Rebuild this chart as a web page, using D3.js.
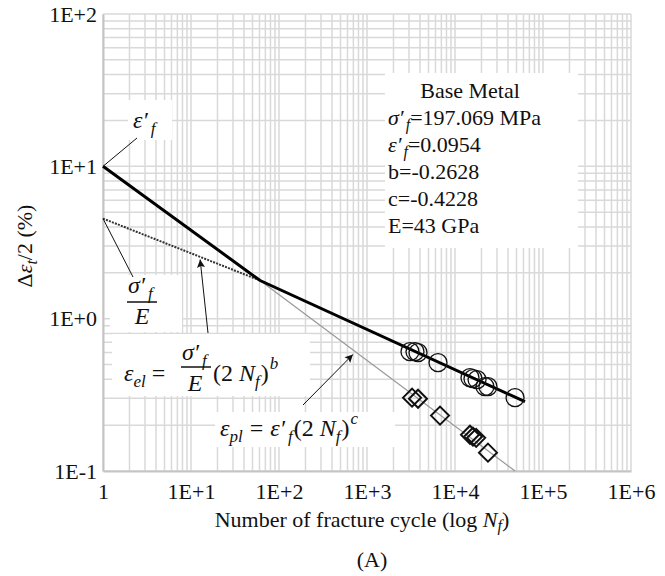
<!DOCTYPE html>
<html>
<head>
<meta charset='UTF-8'>
<title>Strain-life curve</title>
<script src='https://cdn.jsdelivr.net/npm/d3@7/dist/d3.min.js'></script>
<style>
  body {margin:0; background:#fff;}
</style>
</head>
<body>
<div id='chart'></div>
<script>
/* Data */
var xTickValues = [1, 1e1, 1e2, 1e3, 1e4, 1e5, 1e6];
var xTickLabels = ['1', '1E+1', '1E+2', '1E+3', '1E+4', '1E+5', '1E+6'];
var yTickValues = [0.1, 1, 10, 100];
var yTickLabels = ['1E-1', '1E+0', '1E+1', '1E+2'];

// total strain (thick line): plastic part then elastic part
var totalN = [1, 61, 62400];
var totalStrain = [10, 1.78, 0.285];
// elastic line (dotted) up to transition
var elasticN = [1, 61];
var elasticStrain = [4.54, 1.78];
// plastic line (thin grey) after transition
var plasticN = [61, 48100];
var plasticStrain = [1.78, 0.1];

// test points: total strain (circles)
var circleN = [3080, 3510, 3800, 6410, 14800, 16000, 17800, 21900, 23700, 48100];
var circleStrain = [0.607, 0.607, 0.598, 0.514, 0.410, 0.404, 0.398, 0.358, 0.358, 0.303];
// test points: plastic strain (diamonds)
var diamondN = [3250, 3800, 6760, 14800, 16000, 17400, 23700];
var diamondStrain = [0.303, 0.298, 0.231, 0.173, 0.168, 0.165, 0.132];

var legendLines = ['σ′|f|=197.069 MPa', 'ε′|f|=0.0954', 'b=-0.2628', 'c=-0.4228', 'E=43 GPa'];

var width = 665;
var height = 576;
var fontSize = 22;
var mathSize = 24;
var subSize = 17;
var serif = "'Liberation Serif'";

var svg = d3.select('#chart').append('svg')
  .attr('width', width)
  .attr('height', height);

/* Scales */
var x = d3.scaleLog().domain([1, 1e6]).range([103, 631]);
var y = d3.scaleLog().domain([0.1, 100]).range([471, 14]);

/* Grid (major + minor) */
var xGrid = [];
for (var d = 0; d < 6; d++) for (var k = 1; k <= 9; k++) xGrid.push(k * Math.pow(10, d));
xGrid.push(1e6);
var yGrid = [];
for (var d = -1; d < 2; d++) for (var k = 1; k <= 9; k++) yGrid.push(k * Math.pow(10, d));
yGrid.push(100);

var grid = svg.append('g').attr('class', 'grid');
grid.selectAll('.vg').data(xGrid).enter().append('line')
  .attr('x1', d => x(d)).attr('x2', d => x(d))
  .attr('y1', y(100)).attr('y2', y(0.1))
  .attr('stroke', '#d9d9d9').attr('stroke-width', 1.5);
grid.selectAll('.hg').data(yGrid).enter().append('line')
  .attr('x1', x(1)).attr('x2', x(1e6))
  .attr('y1', d => y(d)).attr('y2', d => y(d))
  .attr('stroke', '#d9d9d9').attr('stroke-width', 1.5);

/* White boxes behind the annotations */
var boxes = [
  [385, 73, 193, 175],   // legend
  [128, 100, 44, 40],    // eps'f label
  [110, 275, 72, 57],    // sigma'f / E
  [112, 334, 198, 62],   // eps_el equation
  [215, 412, 180, 35]    // eps_pl equation
];
svg.append('g').selectAll('rect').data(boxes).enter().append('rect')
  .attr('x', d => d[0]).attr('y', d => d[1])
  .attr('width', d => d[2]).attr('height', d => d[3])
  .attr('fill', '#fff');

/* Axes */
var xAxis = d3.axisBottom(x).tickValues(xTickValues)
  .tickFormat((d, i) => xTickLabels[i]).tickSize(0).tickPadding(12);
var yAxis = d3.axisLeft(y).tickValues(yTickValues)
  .tickFormat((d, i) => yTickLabels[i]).tickSize(0).tickPadding(6);

var gx = svg.append('g').attr('transform', `translate(0, ${y(0.1)})`).call(xAxis);
var gy = svg.append('g').attr('transform', `translate(${x(1)}, 0)`).call(yAxis);
[gx, gy].forEach(function(g) {
  g.select('.domain').attr('stroke', '#c4c4c4').attr('stroke-width', 2);
  g.selectAll('text').attr('fill', '#111')
    .style('font-family', serif).style('font-size', fontSize + 'px');
});

/* Lines */
var line = d3.line().x(d => x(d[0])).y(d => y(d[1]));
svg.append('path')
  .attr('d', line(d3.zip(plasticN, plasticStrain)))
  .attr('fill', 'none').attr('stroke', '#9a9a9a').attr('stroke-width', 1.3);
svg.append('path')
  .attr('d', line(d3.zip(elasticN, elasticStrain)))
  .attr('fill', 'none').attr('stroke', '#333').attr('stroke-width', 2)
  .attr('stroke-dasharray', '2,1.2');
svg.append('path')
  .attr('d', line(d3.zip(totalN, totalStrain)))
  .attr('fill', 'none').attr('stroke', '#000').attr('stroke-width', 3);

/* Markers */
svg.append('g').selectAll('circle').data(d3.zip(circleN, circleStrain)).enter()
  .append('circle')
  .attr('cx', d => x(d[0])).attr('cy', d => y(d[1])).attr('r', 9)
  .attr('fill', 'none').attr('stroke', '#111').attr('stroke-width', 1.3);
svg.append('g').selectAll('path').data(d3.zip(diamondN, diamondStrain)).enter()
  .append('path')
  .attr('transform', d => `translate(${x(d[0])}, ${y(d[1])})`)
  .attr('d', 'M0,-9L9,0L0,9L-9,0Z')
  .attr('fill', 'none').attr('stroke', '#111').attr('stroke-width', 2);

/* Rich text helper: parts = [text, italic, shift, size, dx] */
function rich(sel, px, py, parts, anchor, size) {
  var base = size || fontSize;
  var t = sel.append('text').attr('x', px).attr('y', py)
    .attr('text-anchor', anchor || 'start')
    .attr('fill', '#111')
    .style('font-family', serif)
    .style('font-size', base + 'px');
  var shift = 0;
  parts.forEach(function(p) {
    var s = p[2] || 0;
    t.append('tspan').attr('dy', s - shift).attr('dx', p[4] || 0)
      .style('font-style', p[1] ? 'italic' : 'normal')
      .style('font-size', (p[3] || base) + 'px')
      .text(p[0]);
    shift = s;
  });
  return t;
}

/* Legend */
var legend = svg.append('g');
rich(legend, 470, 98, [['Base Metal', false]], 'middle');
legendLines.forEach(function(s, i) {
  var bits = s.split('|');
  var parts = bits.length > 1
    ? [[bits[0], true], [bits[1], true, 5, 16, 2], [bits[2], false, 0]]
    : [[s, false]];
  rich(legend, 388, 125 + i * 27, parts);
});

/* Annotations */
var ann = svg.append('g');
rich(ann, 133, 128, [['ε′', true], ['f', true, 6, subSize, 3]], 'start', mathSize);
ann.append('line')
  .attr('x1', x(1)).attr('y1', y(10)).attr('x2', 137).attr('y2', 138)
  .attr('stroke', '#111').attr('stroke-width', 1);

rich(ann, 128, 293, [['σ′', true], ['f', true, 6, subSize, 3]], 'start', mathSize);
ann.append('line').attr('x1', 127).attr('x2', 157).attr('y1', 302).attr('y2', 302)
  .attr('stroke', '#111').attr('stroke-width', 1.5);
rich(ann, 142, 324, [['E', true]], 'middle', mathSize);
ann.append('line')
  .attr('x1', x(1)).attr('y1', y(4.54)).attr('x2', 133).attr('y2', 277)
  .attr('stroke', '#111').attr('stroke-width', 1);

rich(ann, 124, 381, [['ε', true], ['el', true, 6, subSize], ['=', false, 0, null, 6]], 'start', mathSize);
rich(ann, 182, 360, [['σ′', true], ['f', true, 6, subSize, 3]], 'start', mathSize);
ann.append('line').attr('x1', 181).attr('x2', 211).attr('y1', 367).attr('y2', 367)
  .attr('stroke', '#111').attr('stroke-width', 1.5);
rich(ann, 195, 391, [['E', true]], 'middle', mathSize);
rich(ann, 213, 381, [['(2', false], ['N', true, 0, null, 6], ['f', true, 6, subSize], [')', false, 0, null, 1],
  ['b', true, -12, subSize, 1]], 'start', mathSize);

rich(ann, 220, 436, [['ε', true], ['pl', true, 6, subSize], ['=', false, 0, null, 7], ['ε′', true, 0, null, 7],
  ['f', true, 6, subSize, 3], ['(2', false, 0, null, 1], ['N', true, 0, null, 6], ['f', true, 6, subSize],
  [')', false, 0, null, 1], ['c', true, -12, subSize, 1]], 'start', mathSize);

/* Arrows */
var defs = svg.append('defs');
defs.append('marker').attr('id', 'arrow')
  .attr('viewBox', '0 0 10 10').attr('refX', 10).attr('refY', 5)
  .attr('markerWidth', 11).attr('markerHeight', 8).attr('markerUnits', 'userSpaceOnUse')
  .attr('orient', 'auto')
  .append('path').attr('d', 'M0,0L10,5L0,10L2,5Z').attr('fill', '#111');

ann.append('line')
  .attr('x1', 208).attr('y1', 333).attr('x2', x(12.7)).attr('y2', y(2.52) + 2)
  .attr('stroke', '#111').attr('stroke-width', 1).attr('marker-end', 'url(#arrow)');
ann.append('line')
  .attr('x1', 303).attr('y1', 405).attr('x2', x(692)).attr('y2', y(0.6) + 2)
  .attr('stroke', '#111').attr('stroke-width', 1).attr('marker-end', 'url(#arrow)');

/* Axis titles */
rich(svg, 362, 527, [['Number of fracture cycle (log ', false], ['N', true], ['f', true, 4, 16], [')', false, 0]], 'middle');
rich(svg, 372, 567, [['(A)', false]], 'middle');

var yt = rich(svg, 0, 0, [['Δ', false], ['ε', true], ['t', true, 5, 16], ['/2 (%)', false, 0]], 'middle');
yt.attr('transform', 'translate(32, 246) rotate(-90)');
</script>
</body>
</html>
